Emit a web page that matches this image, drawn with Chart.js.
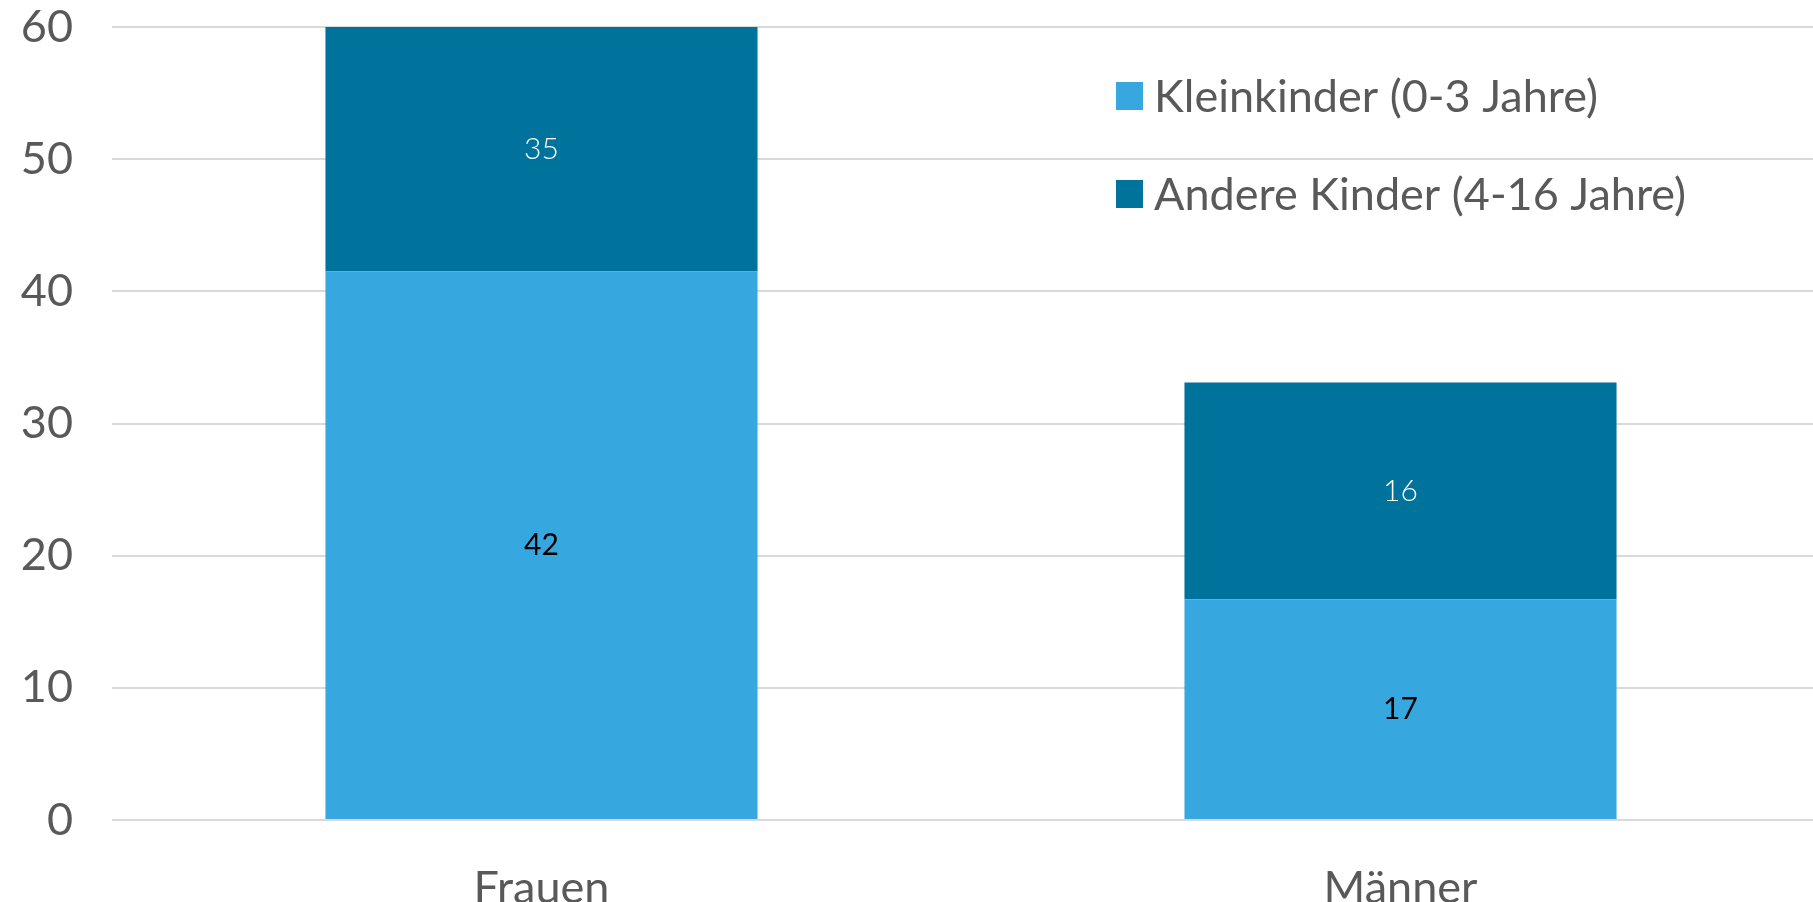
<!DOCTYPE html>
<html>
<head>
<meta charset="utf-8">
<script src="https://cdn.jsdelivr.net/npm/chart.js@4"></script>
<style>
    html, body { margin: 0; padding: 0; background: #fff; overflow: hidden; }
    #wrap { position: relative; width: 1830px; height: 902px; }
</style>
</head>
<body>
<div id="wrap"><canvas id="kinderChart"></canvas></div>
<script>
// 데이터
const categories = ['Frauen', 'Männer'];
const seriesNames = ['Kleinkinder (0-3 Jahre)', 'Andere Kinder (4-16 Jahre)'];
const kleinkinder = [41.5, 16.7];
const andereKinder = [35, 16.4];
const yTicks = [0, 10, 20, 30, 40, 50, 60];

const colors = ['#37a8df', '#00739d'];
const labelColors = ['#000000', '#ffffff'];
const FONT = 'Lato, "Open Sans", sans-serif';

// 막대 안의 값 표시 (보이는 부분의 가운데)
const valueLabels = {
    id: 'valueLabels',
    afterDatasetsDraw(chart) {
        const ctx = chart.ctx;
        const area = chart.chartArea;
        ctx.save();
        ctx.textAlign = 'center';
        ctx.textBaseline = 'middle';
        chart.data.datasets.forEach((ds, i) => {
            const meta = chart.getDatasetMeta(i);
            ctx.fillStyle = labelColors[i];
            ctx.font = (i === 1 ? '300 ' : '400 ') + '30px ' + FONT;
            meta.data.forEach((bar, j) => {
                const p = bar.getProps(['x', 'y', 'base'], true);
                const top = Math.max(p.y, area.top);
                const bottom = Math.min(p.base, area.bottom);
                ctx.fillText(String(Math.round(ds.data[j])), p.x, (top + bottom) / 2);
            });
        });
        ctx.restore();
    }
};

// 범례 (플롯 안 오른쪽 위)
const innerLegend = {
    id: 'innerLegend',
    afterDraw(chart) {
        const ctx = chart.ctx;
        const x0 = 1116;
        const rows = [96, 194];
        ctx.save();
        ctx.font = '45px ' + FONT;
        ctx.textBaseline = 'middle';
        ctx.textAlign = 'left';
        chart.data.datasets.forEach((ds, i) => {
            ctx.fillStyle = ds.backgroundColor;
            ctx.fillRect(x0, rows[i] - 14, 27, 28);
            ctx.fillStyle = '#595959';
            ctx.fillText(ds.label, x0 + 38, rows[i] + 1);
        });
        ctx.restore();
    }
};

const canvas = document.getElementById('kinderChart');
new Chart(canvas, {
    type: 'bar',
    data: {
        labels: categories,
        datasets: [
            { label: seriesNames[0], data: kleinkinder, backgroundColor: colors[0] },
            { label: seriesNames[1], data: andereKinder, backgroundColor: colors[1] }
        ]
    },
    options: {
        responsive: true,
        maintainAspectRatio: false,
        animation: false,
        layout: { padding: { left: 0, top: 0, right: 0, bottom: 0 } },
        datasets: {
            bar: { barPercentage: 1, categoryPercentage: 0.503, borderWidth: 0 }
        },
        plugins: {
            legend: { display: false },
            tooltip: { enabled: false }
        },
        scales: {
            x: {
                stacked: true,
                grid: { display: false },
                border: { display: false },
                afterFit: axis => { axis.height = 82; axis.paddingLeft = 0; axis.paddingRight = 0; },
                ticks: {
                    color: '#595959',
                    padding: 40,
                    font: { family: FONT, size: 45, lineHeight: 0.9 }
                }
            },
            y: {
                stacked: true,
                min: 0,
                max: 60,
                afterBuildTicks: axis => { axis.ticks = yTicks.map(v => ({ value: v })); },
                afterFit: axis => { axis.width = 112; axis.paddingTop = 27; axis.paddingBottom = 0; },
                grid: { color: '#d9d9d9', lineWidth: 2, drawTicks: false },
                border: { display: false },
                ticks: {
                    color: '#595959',
                    padding: 39,
                    font: { family: FONT, size: 45 }
                }
            }
        }
    },
    plugins: [valueLabels, innerLegend]
});
</script>
</body>
</html>
